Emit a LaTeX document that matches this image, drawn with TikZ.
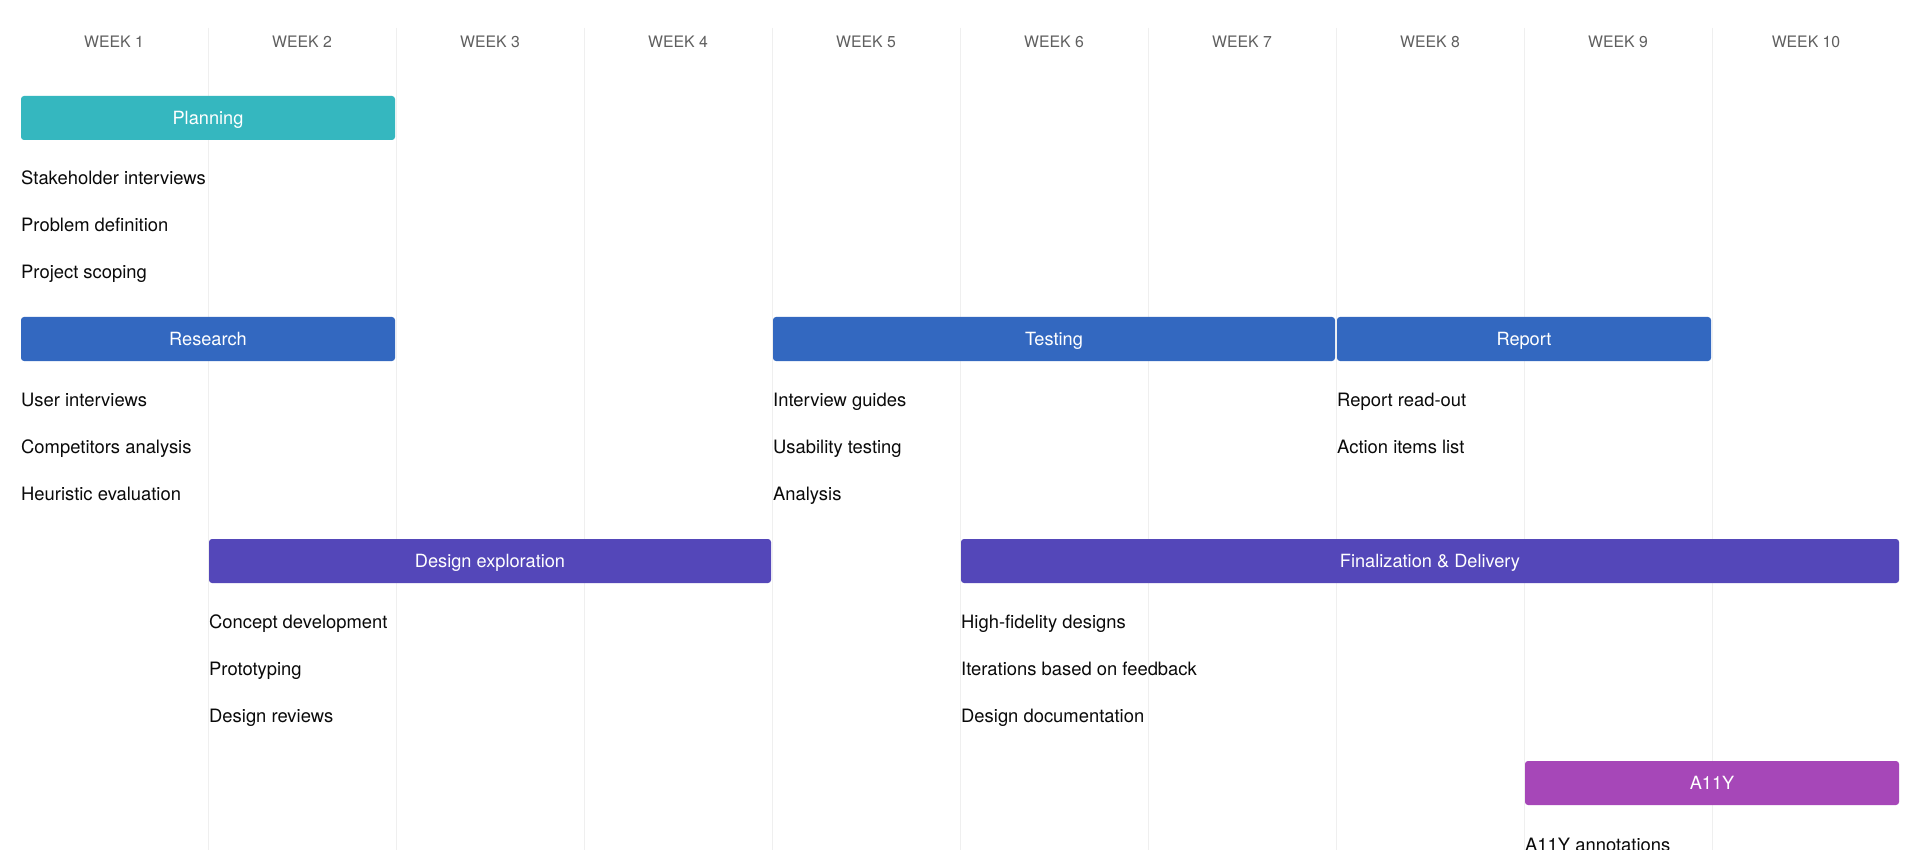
\documentclass[tikz,border=0pt]{standalone}
\usepackage{fontspec}
\setmainfont{TeX Gyre Heros}
\definecolor{cteal}{HTML}{35B7BF}
\definecolor{cblue}{HTML}{3368C0}
\definecolor{cpurp}{HTML}{5447B9}
\definecolor{cmag}{HTML}{A647B8}
\definecolor{cgrid}{HTML}{EFEFEF}
\definecolor{cweek}{HTML}{5F5F5F}
\definecolor{ctask}{HTML}{0A0A0A}
\begin{document}
\begin{tikzpicture}[x=1pt,y=-1pt,
  bar/.style={rectangle, rounded corners=3pt, minimum height=44pt, inner sep=0pt,
    text=white, font=\fontsize{18.2}{20}\selectfont, text height=13pt, text depth=0pt},
  task/.style={anchor=base west, inner sep=0pt, text=ctask, font=\fontsize{18.4}{20}\selectfont},
  week/.style={anchor=base, inner sep=0pt, text=cweek, font=\fontsize{15.8}{18}\selectfont},
  gridline/.style={draw=cgrid, line width=1pt}]
\useasboundingbox[fill=white] (0,0) rectangle (1920,850);
% grid lines
\foreach \k in {1,...,9}{
  \coordinate (gt\k) at (20+188*\k,28);
  \coordinate (gb\k) at (20+188*\k,852);
  \draw[gridline] (gt\k) -- (gb\k);
}
% week labels
\foreach \k in {1,...,10}{
  \node[week] (w\k) at (114+188*\k-188,47.5) {WEEK \k};
}
% bars
\node[bar, fill=cteal, minimum width=374pt] (planning) at (208,118) {Planning};
\node[bar, fill=cblue, minimum width=374pt] (research) at (208,339) {Research};
\node[bar, fill=cblue, minimum width=562pt] (testing) at (1054,339) {Testing};
\node[bar, fill=cblue, minimum width=374pt] (report) at (1524,339) {Report};
\node[bar, fill=cpurp, minimum width=562pt] (design) at (490,561) {Design exploration};
\node[bar, fill=cpurp, minimum width=938pt] (final) at (1430,561) {Finalization \& Delivery};
\node[bar, fill=cmag, minimum width=374pt] (a11y) at (1712,783) {A11Y};
% tasks
\node[task] (p1) at (21,185) {Stakeholder interviews};
\node[task] (p2) at (21,232) {Problem definition};
\node[task] (p3) at (21,279) {Project scoping};
\node[task] (r1) at (21,406) {User interviews};
\node[task] (r2) at (21,453) {Competitors analysis};
\node[task] (r3) at (21,500) {Heuristic evaluation};
\node[task] (t1) at (773,406) {Interview guides};
\node[task] (t2) at (773,453) {Usability testing};
\node[task] (t3) at (773,500) {Analysis};
\node[task] (rp1) at (1337,406) {Report read-out};
\node[task] (rp2) at (1337,453) {Action items list};
\node[task] (d1) at (209,628) {Concept development};
\node[task] (d2) at (209,675) {Prototyping};
\node[task] (d3) at (209,722) {Design reviews};
\node[task] (f1) at (961,628) {High-fidelity designs};
\node[task] (f2) at (961,675) {Iterations based on feedback};
\node[task] (f3) at (961,722) {Design documentation};
\node[task] (a1) at (1525,851) {A11Y annotations};
\end{tikzpicture}
\end{document}
